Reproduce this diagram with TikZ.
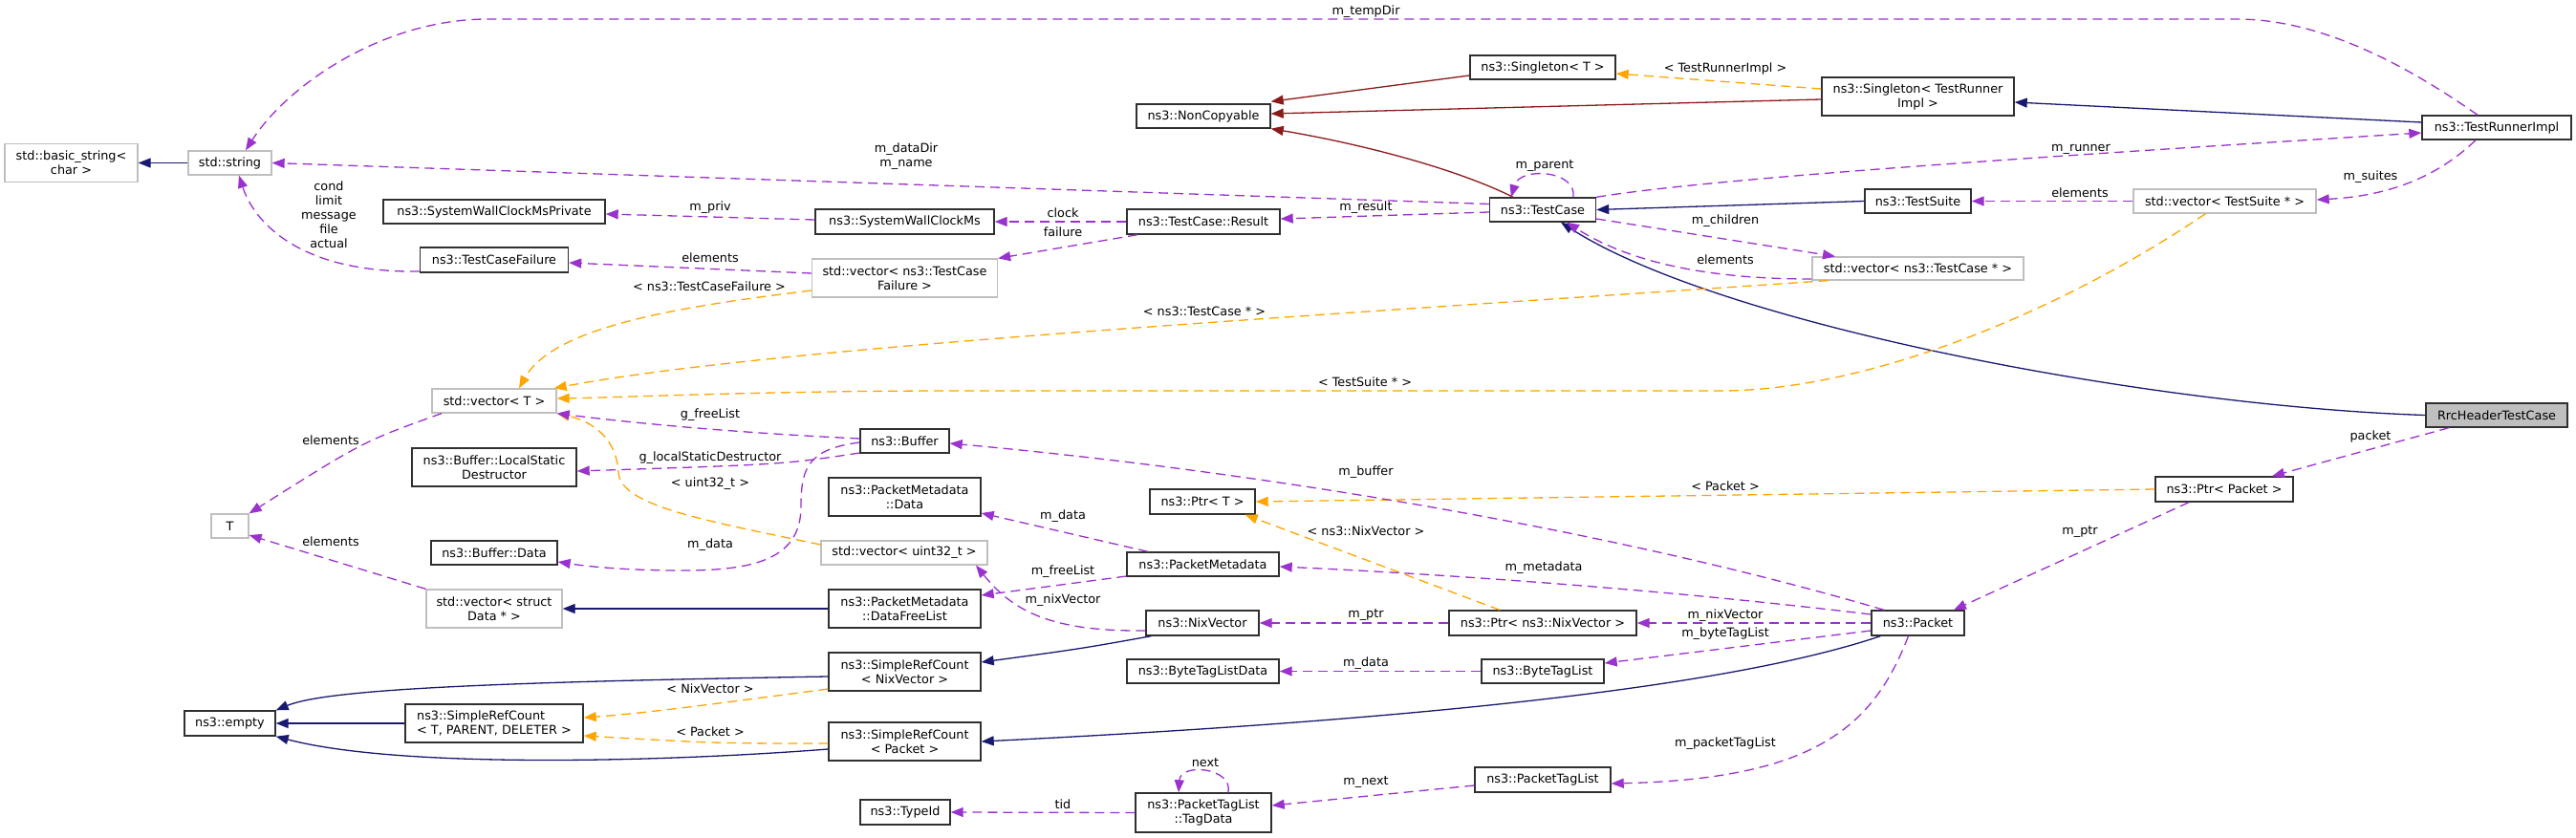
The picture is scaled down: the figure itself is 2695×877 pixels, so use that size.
\documentclass[tikz,border=0pt]{standalone}
\usepackage{fontspec}
\usetikzlibrary{arrows.meta}
\newfontfamily\djv{DejaVu Sans}
\newcommand\dvfont{\djv\fontsize{12.8}{15}\selectfont}
\definecolor{inhblue}{HTML}{191970}
\definecolor{privred}{HTML}{8B1A1A}
\definecolor{usepurple}{HTML}{9A32CD}
\definecolor{tmplorange}{HTML}{FFA500}
\definecolor{gborder}{HTML}{BFBFBF}
\definecolor{bborder}{HTML}{303030}
\tikzset{
  box/.style={draw=bborder, line width=1.4pt, fill=white, inner sep=0pt, font=\dvfont, align=center},
  gbox/.style={box, draw=gborder, line width=1.3pt},
  tipA/.style={-{Triangle[length=13pt,width=10pt]}},
  inh/.style={draw=inhblue, line width=1.3pt, tipA},
  priv/.style={draw=privred, line width=1.3pt, tipA},
  use/.style={draw=usepurple, line width=1.3pt, dash pattern=on 10pt off 6pt, tipA},
  tmpl/.style={draw=tmplorange, line width=1.3pt, dash pattern=on 10pt off 6pt, tipA},
  lbl/.style={font=\dvfont, inner sep=0pt, align=center}
}
\begin{document}
\begin{tikzpicture}[x=1pt,y=-1pt]
\useasboundingbox (0,0) rectangle (2695,877);
% ---- nodes ----
\node[gbox, minimum width=139pt, minimum height=40pt] (bstr) at (74.5,170.5) {std::basic\_string<\\char >};
\node[gbox, minimum width=87pt, minimum height=25pt] (str) at (240.5,170.5) {std::string};
\node[box, minimum width=232pt, minimum height=25pt] (swcmp) at (517,221.5) {ns3::SystemWallClockMsPrivate};
\node[box, minimum width=155pt, minimum height=26pt] (tcf) at (517,272) {ns3::TestCaseFailure};
\node[gbox, minimum width=130pt, minimum height=25pt] (vecT) at (517,419.5) {std::vector< T >};
\node[gbox, minimum width=39pt, minimum height=25pt] (T) at (240.5,550.5) {T};
\node[box, minimum width=172pt, minimum height=40pt] (lsd) at (517,489) {ns3::Buffer::LocalStatic\\Destructor};
\node[box, minimum width=132pt, minimum height=25pt] (bdata) at (517,578.5) {ns3::Buffer::Data};
\node[gbox, minimum width=142pt, minimum height=40pt] (vecSD) at (517,637) {std::vector< struct\\Data * >};
\node[box, minimum width=95pt, minimum height=26pt] (empty) at (240.5,757) {ns3::empty};
\node[box, minimum width=186pt, minimum height=40pt, align=left] (srcT) at (517,757) {ns3::SimpleRefCount\\< T, PARENT, DELETER >};
\node[box, minimum width=140pt, minimum height=25pt] (ncopy) at (1259,121.5) {ns3::NonCopyable};
\node[box, minimum width=187pt, minimum height=26pt] (swcm) at (946.5,232) {ns3::SystemWallClockMs};
\node[box, minimum width=160pt, minimum height=26pt] (result) at (1259,232) {ns3::TestCase::Result};
\node[gbox, minimum width=194pt, minimum height=40pt] (vecTCF) at (946.5,291) {std::vector< ns3::TestCase\\Failure >};
\node[box, minimum width=93pt, minimum height=25pt] (buffer) at (946.5,461.5) {ns3::Buffer};
\node[box, minimum width=159pt, minimum height=40pt] (pmdata) at (946.5,520) {ns3::PacketMetadata\\::Data};
\node[gbox, minimum width=174pt, minimum height=25pt] (vecU) at (946,578.5) {std::vector< uint32\_t >};
\node[box, minimum width=159pt, minimum height=40pt] (dfl) at (946.5,637) {ns3::PacketMetadata\\::DataFreeList};
\node[box, minimum width=159pt, minimum height=40pt] (srcNix) at (946.5,703) {ns3::SimpleRefCount\\< NixVector >};
\node[box, minimum width=159pt, minimum height=40pt] (srcPkt) at (946.5,776) {ns3::SimpleRefCount\\< Packet >};
\node[box, minimum width=94pt, minimum height=26pt] (typeid) at (947,850) {ns3::TypeId};
\node[box, minimum width=110pt, minimum height=26pt] (ptrT) at (1258,525) {ns3::Ptr< T >};
\node[box, minimum width=159pt, minimum height=25pt] (pm) at (1258.5,590.5) {ns3::PacketMetadata};
\node[box, minimum width=118pt, minimum height=26pt] (nix) at (1258,652) {ns3::NixVector};
\node[box, minimum width=159pt, minimum height=25pt] (btld) at (1258.5,702.5) {ns3::ByteTagListData};
\node[box, minimum width=142pt, minimum height=41pt] (tagdata) at (1259,850.5) {ns3::PacketTagList\\::TagData};
\node[box, minimum width=152pt, minimum height=25pt] (singT) at (1614,70.5) {ns3::Singleton< T >};
\node[box, minimum width=111pt, minimum height=25pt] (tc) at (1614,219.5) {ns3::TestCase};
\node[box, minimum width=196pt, minimum height=26pt] (ptrNix) at (1614,652) {ns3::Ptr< ns3::NixVector >};
\node[box, minimum width=128pt, minimum height=25pt] (btl) at (1614,702.5) {ns3::ByteTagList};
\node[box, minimum width=142pt, minimum height=26pt] (ptl) at (1614,816) {ns3::PacketTagList};
\node[box, minimum width=201pt, minimum height=40pt] (singTRI) at (2006.5,101) {ns3::Singleton< TestRunner\\Impl >};
\node[box, minimum width=111pt, minimum height=25pt] (ts) at (2006.5,210.5) {ns3::TestSuite};
\node[gbox, minimum width=221pt, minimum height=24pt] (vecTC) at (2006.5,281) {std::vector< ns3::TestCase * >};
\node[box, minimum width=97pt, minimum height=26pt] (packet) at (2006.5,652) {ns3::Packet};
\node[gbox, minimum width=191pt, minimum height=25pt] (vecTS) at (2327.5,210.5) {std::vector< TestSuite * >};
\node[box, minimum width=144pt, minimum height=26pt] (ptrPkt) at (2327,512) {ns3::Ptr< Packet >};
\node[box, minimum width=156pt, minimum height=25pt] (tri) at (2612,133.5) {ns3::TestRunnerImpl};
\node[box, fill=gborder, minimum width=148pt, minimum height=25pt] (rrc) at (2612,434.5) {RrcHeaderTestCase};
% ---- inheritance ----
\draw[inh] (str.west) -- (bstr.east);
\draw[inh] (dfl.west) -- (vecSD.east);
\draw[inh] ([yshift=-5pt]srcNix.west) .. controls (500,714) and (340,722) .. (empty.north east);
\draw[inh] (srcT.west) -- (empty.east);
\draw[inh] ([yshift=-8pt]srcPkt.west) .. controls (700,797) and (420,805) .. (empty.south east);
\draw[inh] ([xshift=6pt]nix.south west) .. controls (1130,679) .. ([yshift=10pt]srcNix.east);
\draw[inh] ([xshift=10pt]packet.south west) .. controls (1830,712) and (1550,750) .. (srcPkt.east);
\draw[inh] (ts.west) -- (tc.east);
\draw[inh] (rrc.west) .. controls (2250,425) and (1800,340) .. ([xshift=19pt]tc.south);
\draw[inh] ([yshift=5.5pt]tri.west) -- ([yshift=-6pt]singTRI.east);
% ---- private inheritance ----
\draw[priv] ([yshift=-8.5pt]singT.west) -- ([yshift=2pt]ncopy.north east);
\draw[priv] ([yshift=-3pt]singTRI.west) -- ([yshift=2.5pt]ncopy.east);
\draw[priv] ([xshift=-31pt]tc.north) .. controls (1520,175) and (1420,150) .. (ncopy.south east);
% ---- template instances ----
\draw[tmpl] ([yshift=8pt]singTRI.west) -- ([yshift=-6.5pt]singT.east);
\draw[tmpl] ([yshift=-13pt]vecTCF.west) .. controls (720,320) and (580,340) .. ([xshift=26pt]vecT.north);
\draw[tmpl] ([xshift=-94pt]vecTC.south) .. controls (1300,335) and (800,365) .. ([xshift=-3pt]vecT.north east);
\draw[tmpl] ([xshift=-20pt]vecTS.south) .. controls (2150,330) and (1950,409) .. (1800,409) -- (1000,409) .. controls (800,409) and (650,416) .. ([yshift=2.5pt]vecT.east);
\draw[tmpl] ([yshift=8.5pt]vecU.west) .. controls (740,545) and (650,530) .. (647,495) .. controls (645,455) and (615,440) .. (vecT.south east);
\draw[tmpl] ([xshift=-45pt]ptrNix.north) -- ([xshift=-11pt]ptrT.south east);
\draw[tmpl] (ptrPkt.west) -- (ptrT.east);
\draw[tmpl] ([yshift=-18pt]srcNix.west) .. controls (760,735) and (680,746) .. ([yshift=6pt]srcT.east);
\draw[tmpl] ([yshift=-2pt]srcPkt.west) .. controls (750,778) .. ([yshift=-13pt]srcT.east);
% ---- usage ----
\draw[use] ([xshift=-20pt]tri.north) .. controls (2520,70) and (2430,20) .. (2340,20) -- (510,20) .. controls (400,20) and (300,90) .. ([xshift=16.5pt]str.north);
\draw[use] ([yshift=6pt]tc.west) -- (str.east);
\draw[use] ([yshift=-12pt]tcf.west) .. controls (310,286) and (265,230) .. ([xshift=9.5pt]str.south);
\draw[use] ([yshift=2pt]swcm.west) -- ([yshift=-2.5pt]swcmp.east);
\draw[use] (result.west) -- (swcm.east);
\draw[use] ([xshift=-69pt]result.south) -- (vecTCF.north east);
\draw[use] ([yshift=5pt]vecTCF.west) -- ([yshift=-3pt]tcf.east);
\draw[use] ([yshift=-2.5pt]tc.west) -- ([yshift=3pt]result.east);
\draw[use] ([xshift=32pt]tc.north) .. controls (1650,178) and (1590,174) .. ([xshift=-33pt]tc.north);
\draw[use] ([yshift=-9.5pt]tc.east) -- ([xshift=-86.5pt]vecTC.north);
\draw[use] ([yshift=-11pt]vecTC.west) .. controls (1760,292) and (1690,265) .. ([xshift=25pt]tc.south);
\draw[use] (tc.north east) .. controls (1800,185) and (2200,160) .. ([yshift=-5.5pt]tri.west);
\draw[use] ([xshift=-22pt]tri.south) .. controls (2550,185) and (2500,205) .. ([yshift=1.5pt]vecTS.east);
\draw[use] (vecTS.west) -- (ts.east);
\draw[use] ([xshift=-50pt]rrc.south) -- ([xshift=50pt]ptrPkt.north);
\draw[use] ([xshift=-37pt]ptrPkt.south) -- ([xshift=37.5pt]packet.north);
\draw[use] ([xshift=-35.5pt]packet.north) .. controls (1671,550) and (1293,491) .. ([yshift=-2.5pt]buffer.east);
\draw[use] ([yshift=9pt]packet.west) .. controls (1700,612) and (1450,598) .. ([yshift=-2.5pt]pm.east);
\draw[use] (packet.west) -- (ptrNix.east);
\draw[use] ([yshift=-8pt]packet.west) -- ([yshift=8.5pt]btl.east);
\draw[use] ([xshift=-10pt]packet.south) .. controls (1960,760) and (1900,815) .. ([yshift=-4pt]ptl.east);
\draw[use] (ptrNix.west) -- (nix.east);
\draw[use] (btl.west) -- (btld.east);
\draw[use] ([yshift=-6pt]ptl.west) -- ([yshift=7.5pt]tagdata.east);
\draw[use] ([xshift=26pt]tagdata.north) .. controls (1290,803) and (1235,798) .. ([xshift=-26pt]tagdata.north);
\draw[use] (tagdata.west) -- (typeid.east);
\draw[use] ([xshift=-57.5pt]pm.north) -- ([yshift=-17pt]pmdata.east);
\draw[use] ([yshift=-12.5pt]pm.west) -- ([yshift=14pt]dfl.east);
\draw[use] ([yshift=-8pt]nix.west) .. controls (1100,661) and (1060,640) .. ([xshift=75pt]vecU.south);
\draw[use] ([yshift=2.5pt]buffer.west) .. controls (750,452) and (640,440) .. (vecT.south east);
\draw[use] ([yshift=-12.5pt]buffer.west) .. controls (820,486) .. ([yshift=-4pt]lsd.east);
\draw[use] ([yshift=-1.5pt]buffer.west) .. controls (845,470) and (838,490) .. (838,530) .. controls (838,590) and (780,598) .. (700,597) .. controls (640,596) and (610,592) .. ([yshift=-9.5pt]bdata.east);
\draw[use] ([xshift=-55pt]vecT.south) .. controls (380,462) .. (T.north east);
\draw[use] (vecSD.north west) -- ([yshift=-9.5pt]T.east);
% ---- labels ----
\node[lbl] (l1) at (1429,12) {m\_tempDir};
\node[lbl] (l2) at (948,163.5) {m\_dataDir\\m\_name};
\node[lbl] (l3) at (344,225) {cond\\limit\\message\\file\\actual};
\node[lbl] (l4) at (743,217) {m\_priv};
\node[lbl] (l5) at (1112,223) {clock};
\node[lbl] (l6) at (1112,243) {failure};
\node[lbl] (l7) at (743,270) {elements};
\node[lbl] (l8) at (742,300) {< ns3::TestCaseFailure >};
\node[lbl] (l9) at (1260,326) {< ns3::TestCase * >};
\node[lbl] (l10) at (1428,400) {< TestSuite * >};
\node[lbl] (l11) at (743,434) {g\_freeList};
\node[lbl] (l12) at (743,479) {g\_localStaticDestructor};
\node[lbl] (l13) at (743,506) {< uint32\_t >};
\node[lbl] (l14) at (743,570) {m\_data};
\node[lbl] (l15) at (1112,540) {m\_data};
\node[lbl] (l16) at (1112,598) {m\_freeList};
\node[lbl] (l17) at (1112,628) {m\_nixVector};
\node[lbl] (l18) at (743,721) {< NixVector >};
\node[lbl] (l19) at (743,766) {< Packet >};
\node[lbl] (l20) at (1261,798) {next};
\node[lbl] (l21) at (1112,842) {tid};
\node[lbl] (l22) at (1616,174) {m\_parent};
\node[lbl] (l23) at (1429,217) {m\_result};
\node[lbl] (l24) at (1805,72) {< TestRunnerImpl >};
\node[lbl] (l25) at (1805,231) {m\_children};
\node[lbl] (l26) at (1805,272) {elements};
\node[lbl] (l27) at (2177,156) {m\_runner};
\node[lbl] (l28) at (2480,185) {m\_suites};
\node[lbl] (l29) at (2176,202) {elements};
\node[lbl] (l30) at (1429,494) {m\_buffer};
\node[lbl] (l31) at (1805,509) {< Packet >};
\node[lbl] (l32) at (1429,556) {< ns3::NixVector >};
\node[lbl] (l33) at (1615,594) {m\_metadata};
\node[lbl] (l34) at (1429,644) {m\_ptr};
\node[lbl] (l35) at (1805,644) {m\_nixVector};
\node[lbl] (l36) at (1805,663) {m\_byteTagList};
\node[lbl] (l37) at (1429,694) {m\_data};
\node[lbl] (l38) at (1805,778) {m\_packetTagList};
\node[lbl] (l39) at (1429,819) {m\_next};
\node[lbl] (l40) at (2480,457) {packet};
\node[lbl] (l41) at (2176,557) {m\_ptr};
\node[lbl] (l42) at (346,461) {elements};
\node[lbl] (l43) at (346,567) {elements};
\end{tikzpicture}
\end{document}
